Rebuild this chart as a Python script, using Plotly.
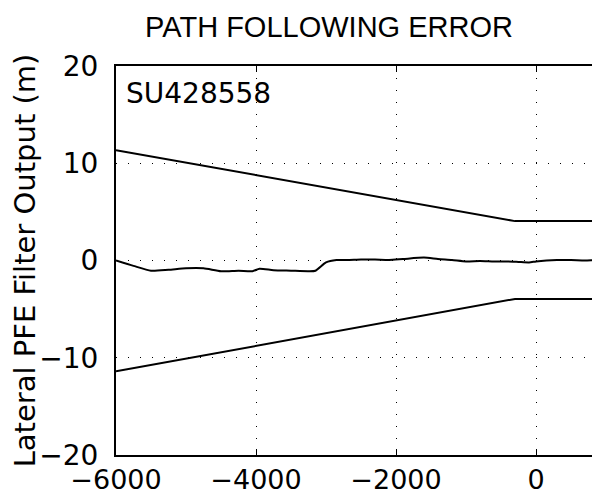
import plotly.graph_objects as go

# Boundary lines (upper / lower limits)
bound_x = [-6000, -300, 1000]
upper_y = [11.35, 4.05, 4.05]
lower_y = [-11.4, -3.95, -3.95]

# Lateral PFE filter output signal
sig_x = [-6000, -5750, -5500, -5250, -5000, -4750, -4500, -4250, -4050, -3950,
         -3750, -3500, -3250, -3150, -3000, -2850, -2700, -2500, -2300, -2100,
         -1900, -1600, -1400, -1200, -1000, -800, -600, -400, -250, -100,
         0, 150, 300, 500, 700, 850, 1000]
sig_y = [0.0, -0.55, -1.05, -0.95, -0.8, -0.8, -1.1, -1.05, -1.1, -0.85,
         -1.0, -1.05, -1.1, -1.05, -0.2, 0.05, 0.05, 0.1, 0.1, 0.05,
         0.15, 0.3, 0.15, 0.05, -0.1, -0.05, -0.1, -0.1, -0.15, -0.2,
         -0.1, 0.0, 0.05, 0.05, 0.0, 0.05, 0.05]

x_ticks = [-6000, -4000, -2000, 0]
x_labels = ["\u22126000", "\u22124000", "\u22122000", "0"]
y_ticks = [-20, -10, 0, 10, 20]
y_labels = ["\u221220", "\u221210", "0", "10", "20"]

FONT = "Liberation Sans, Arial, Helvetica, sans-serif"
WIDE = "DejaVu Sans, Liberation Sans, sans-serif"

fig = go.Figure()
for yy in (upper_y, lower_y):
    fig.add_trace(go.Scatter(x=bound_x, y=yy, mode="lines",
                             line=dict(color="black", width=2), showlegend=False))
fig.add_trace(go.Scatter(x=sig_x, y=sig_y, mode="lines",
                         line=dict(color="black", width=2, shape="spline", smoothing=0.6),
                         showlegend=False))

fig.add_annotation(x=-5880, y=17.2, xref="x", yref="y", text="SU428558",
                   showarrow=False, xanchor="left", yanchor="middle",
                   font=dict(family=WIDE, size=28, color="black"))

grid_common = dict(showline=True, linecolor="black", linewidth=2, automargin=False,
                   showgrid=True, gridcolor="black", gridwidth=1, griddash="1px,11px",
                   zeroline=False)

fig.update_xaxes(range=[-6000, 1000], tickvals=x_ticks, ticktext=x_labels,
                 mirror="ticks", ticks="inside", ticklen=6, tickwidth=1, tickcolor="black",
                 tickfont=dict(family=WIDE, size=27, color="black"), **grid_common)
fig.update_yaxes(range=[-20, 20], tickvals=y_ticks, ticktext=y_labels,
                 mirror=True, ticks="outside", ticklen=10, tickwidth=1, tickcolor="white",
                 tickfont=dict(family=WIDE, size=28, color="black"),
                 title=dict(text="Lateral PFE Filter Output (m)",
                            font=dict(family=WIDE, size=29, color="black"), standoff=0),
                 **grid_common)

fig.update_layout(
    width=600, height=495,
    margin=dict(l=108, r=2, t=58, b=48),
    paper_bgcolor="white", plot_bgcolor="white",
    title=dict(text="PATH FOLLOWING ERROR", x=0.535, xanchor="center",
               y=0.962, yanchor="middle",
               font=dict(family=FONT, size=29, color="black")),
)

fig.write_html("out.html")
